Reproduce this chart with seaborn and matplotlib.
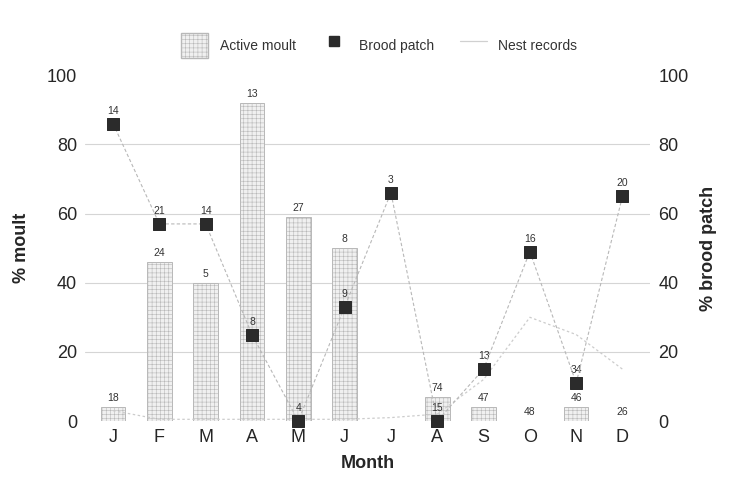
import matplotlib
matplotlib.use("Agg")
import matplotlib.pyplot as plt
import seaborn as sns
import numpy as np
import pandas as pd
from matplotlib.lines import Line2D
from matplotlib.patches import Patch

months = ["J", "F", "M", "A", "M", "J", "J", "A", "S", "O", "N", "D"]
moult_pct = [4, 46, 40, 92, 59, 50, 0, 7, 4, 0, 4, 0]
moult_n = ["18", "24", "5", "13", "27", "8", "", "74", "47", "48", "46", "26"]
brood_pct = [86, 57, 57, 25, 0, 33, 66, 0, 15, 49, 11, 65]
brood_n = ["14", "21", "14", "8", "4", "9", "3", "15", "13", "16", "34", "20"]
nest_pct = [3, 0.5, 0.5, 0.5, 0.5, 0.5, 1, 2, 12, 30, 25, 15]

sns.set_theme(style="white")
plt.rcParams['font.family'] = ['Liberation Sans', 'DejaVu Sans']
plt.rcParams['hatch.linewidth'] = 0.4
plt.rcParams['hatch.color'] = '#a8a8a8'

df = pd.DataFrame({"month": np.arange(12), "moult": moult_pct,
                   "brood": brood_pct, "nest": nest_pct})

fig = plt.figure(figsize=(7.29, 4.79), dpi=100)
ax = fig.add_axes([0.117, 0.121, 0.775, 0.722])

sns.barplot(data=df, x="month", y="moult", ax=ax, color="#f0f0f0",
            width=0.53, edgecolor="#b8b8b8", linewidth=0.7, saturation=1,
            zorder=2)
for p in ax.patches:
    p.set_hatch("++++")
for i, (v, lab) in enumerate(zip(moult_pct, moult_n)):
    ax.text(i, v + 1.2, lab, ha="center", va="bottom", fontsize=7.5,
            color="#333333")

for yv in [20, 40, 60, 80]:
    ax.axhline(yv, color="#d5d5d5", lw=0.8, zorder=0)

ax.set_xlim(-0.6, 11.6)
ax.set_ylim(0, 100)
ax.set_xticks(np.arange(12))
ax.set_xticklabels(months, fontsize=13)
ax.set_yticks([0, 20, 40, 60, 80, 100])
ax.set_yticklabels(["0", "20", "40", "60", "80", "100"], fontsize=13)
ax.set_xlabel("Month", fontsize=13, fontweight="bold", labelpad=6)
ax.set_ylabel("% moult", fontsize=13, fontweight="bold", labelpad=12)
for s in ax.spines.values():
    s.set_visible(False)
ax.tick_params(axis="both", length=0, pad=6)

ax2 = ax.twinx()
sns.lineplot(data=df, x="month", y="nest", ax=ax2, color="#cccccc",
             lw=0.9, linestyle=(0, (2, 2)), zorder=3)
sns.lineplot(data=df, x="month", y="brood", ax=ax2, color="#b8b8b8",
             lw=0.8, linestyle=(0, (3, 2)), zorder=4)
sns.scatterplot(data=df, x="month", y="brood", ax=ax2, marker="s", s=80,
                color="#2b2b2b", edgecolor="#2b2b2b", zorder=5, clip_on=False)
for i, (v, lab) in enumerate(zip(brood_pct, brood_n)):
    ax2.text(i, v + 2.3, lab, ha="center", va="bottom", fontsize=7.5,
             color="#333333")
ax2.set_ylim(0, 100)
ax2.set_xlim(-0.6, 11.6)
ax2.set_yticks([0, 20, 40, 60, 80, 100])
ax2.set_yticklabels(["0", "20", "40", "60", "80", "100"], fontsize=13)
ax2.set_ylabel("% brood patch", fontsize=13, fontweight="bold", labelpad=8)
ax2.set_xlabel("")
for s in ax2.spines.values():
    s.set_visible(False)
ax2.tick_params(axis="y", length=0, pad=6)

handles = [Patch(facecolor="#f0f0f0", edgecolor="#b8b8b8", hatch="++++",
                 label="Active moult"),
           Line2D([], [], marker="s", color="none", markerfacecolor="#2b2b2b",
                  markeredgecolor="#2b2b2b", markersize=7, label="Brood patch"),
           Line2D([], [], color="#d0d0d0", lw=0.9, label="Nest records")]
fig.legend(handles=handles, loc="center", bbox_to_anchor=(0.52, 0.905),
           ncol=3, frameon=False, fontsize=10, handlelength=2.0,
           handleheight=2.4, columnspacing=1.8, labelcolor="#333333")

fig.savefig("out.png", dpi=100)
